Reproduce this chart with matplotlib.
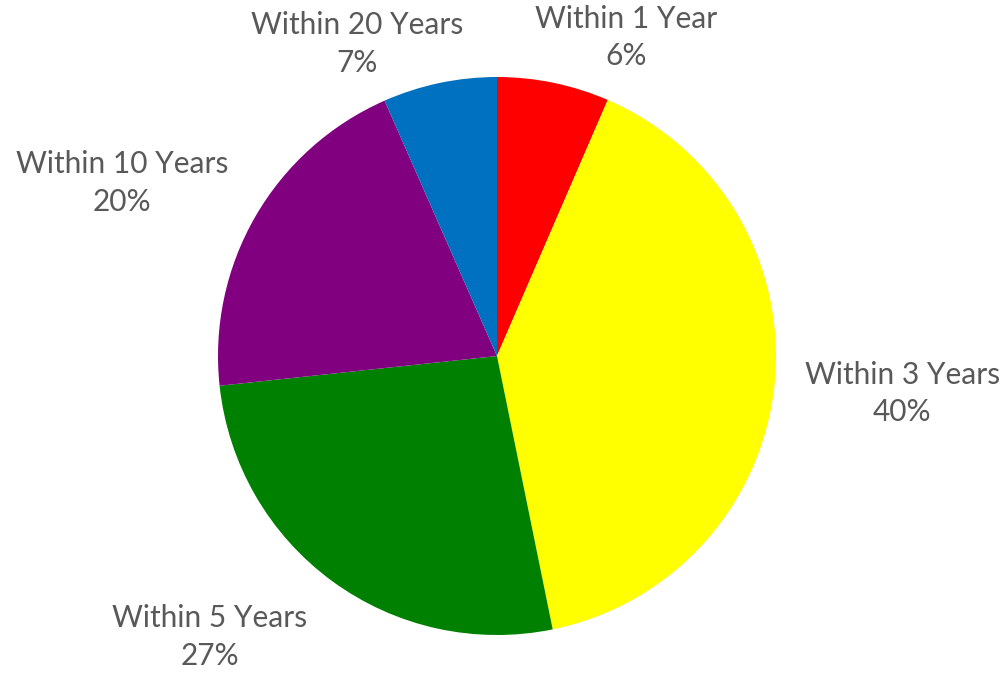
import matplotlib
matplotlib.use("Agg")
import matplotlib.pyplot as plt
import numpy as np

categories = ["Within 1 Year", "Within 3 Years", "Within 5 Years", "Within 10 Years", "Within 20 Years"]
values = [6.5, 40.3, 26.5, 20.1, 6.6]
pct_labels = ["6%", "40%", "27%", "20%", "7%"]
colors = ["#FF0000", "#FFFF00", "#008000", "#800080", "#0070C0"]

# label positions (style, in units of pie radius)
label_pos = [(0.462, 1.143), (1.452, -0.133), (-1.029, -1.007), (-1.344, 0.620), (-0.502, 1.118)]

fig = plt.figure(figsize=(10.04, 6.76), dpi=100)
ax = fig.add_axes([0, 0, 1, 1])
ax.pie(values, colors=colors, startangle=90, counterclock=False, radius=1.0,
       center=(0, 0), wedgeprops=dict(linewidth=0))
ax.set_xlim(-497 / 279, (1004 - 497) / 279)
ax.set_ylim((356 - 676) / 279, 356 / 279)
ax.set_aspect("auto")
ax.axis("off")

for cat, pct, (x, y) in zip(categories, pct_labels, label_pos):
    ax.text(x, y, f"{cat}\n{pct}", ha="center", va="center", fontsize=21.5,
            family=["Lato", "DejaVu Sans"], color="#595959", linespacing=1.4)

fig.savefig("out.png", dpi=100)
